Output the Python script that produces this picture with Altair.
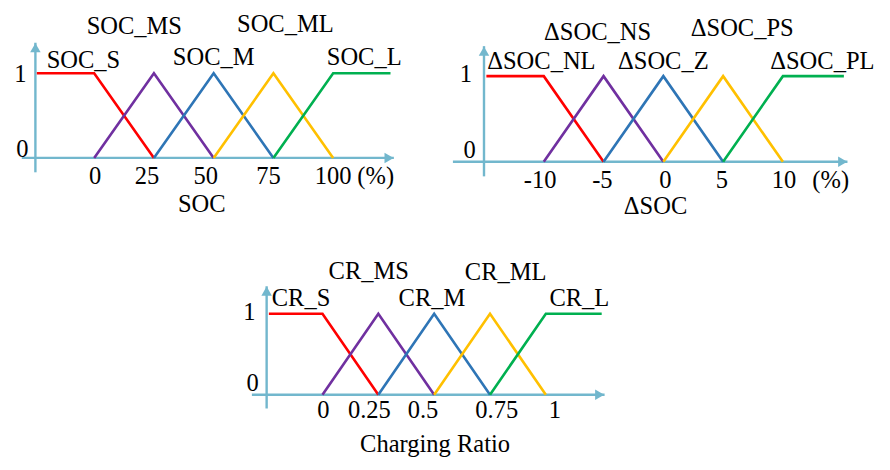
import altair as alt
import pandas as pd

FONT = "Liberation Serif"
COLORS = ["#FF0000", "#7030A0", "#2E75B6", "#FFC000", "#00B050"]
AXIS_COLOR = "#72B7CD"

# ---------------- Panel A : SOC ----------------
A_names = ["SOC_S", "SOC_MS", "SOC_M", "SOC_ML", "SOC_L"]
A_mf_x = [[-24, 0, 25], [0, 25, 50], [25, 50, 75], [50, 75, 100], [75, 100, 124]]
A_mf_y = [[1, 1, 0], [0, 1, 0], [0, 1, 0], [0, 1, 0], [0, 1, 1]]
A_lab_x = [-4.5, 16.8, 50, 80, 113]
A_lab_y = [1.06, 1.46, 1.10, 1.49, 1.10]
A_ticks = ["0", "25", "50", "75", "100", "(%)"]
A_tick_x = [0.4, 22.1, 46.7, 72.9, 100.0, 117.8]
A_tick_y = -0.31
A_title = "SOC"
A_title_xy = (45, -0.64)
A_one_xy = (-28.3, 0.90)
A_zero_xy = (-27.5, 0.01)
A_yaxis = (-24.6, -0.17, 1.36)      # x, y bottom, y tip
A_xaxis = (-30.3, 125.4)            # x start, x tip
A_arrow = (123.4, 1.30)             # x-arrow centre x, y-arrow centre y

# ---------------- Panel B : ΔSOC ----------------
B_names = ["ΔSOC_NL", "ΔSOC_NS", "ΔSOC_Z", "ΔSOC_PS", "ΔSOC_PL"]
B_mf_x = [[-14.8, -10, -5], [-10, -5, 0], [-5, 0, 5], [0, 5, 10], [5, 10, 15.1]]
B_mf_y = A_mf_y
B_lab_x = [-10.2, -5.5, 0, 6.6, 13.3]
B_lab_y = [1.08, 1.42, 1.08, 1.47, 1.08]
B_ticks = ["-10", "-5", "0", "5", "10", "(%)"]
B_tick_x = [-10.3, -5.1, 0.16, 4.9, 10.1, 14.0]
B_tick_y = -0.30
B_title = "ΔSOC"
B_title_xy = (-0.65, -0.61)
B_one_xy = (-16.0, 0.93)
B_zero_xy = (-15.7, 0.05)
B_yaxis = (-15.0, -0.17, 1.35)
B_xaxis = (-17.6, 15.4)
B_arrow = (15.0, 1.29)

# ---------------- Panel C : Charging Ratio ----------------
C_names = ["CR_S", "CR_MS", "CR_M", "CR_ML", "CR_L"]
C_mf_x = [[-0.24, 0, 0.25], [0, 0.25, 0.5], [0.25, 0.5, 0.75], [0.5, 0.75, 1], [0.75, 1, 1.25]]
C_mf_y = A_mf_y
C_lab_x = [-0.096, 0.207, 0.49, 0.82, 1.15]
C_lab_y = [1.10, 1.43, 1.10, 1.42, 1.10]
C_ticks = ["0", "0.25", "0.5", "0.75", "1"]
C_tick_x = [0.004, 0.21, 0.45, 0.78, 1.04]
C_tick_y = -0.29
C_title = "Charging Ratio"
C_title_xy = (0.504, -0.71)
C_one_xy = (-0.30, 0.92)
C_zero_xy = (-0.285, 0.05)
C_yaxis = (-0.25, -0.17, 1.34)
C_xaxis = (-0.316, 1.263)
C_arrow = (1.241, 1.28)

# ---------------- layout (reference pixel frame -> output) ----------------
S, SY, RX0, RY0 = 0.98, 0.975, 4, 4
FS = 24.5


def lin(p, pa, va, pb, vb):
    return va + (p - pa) * (vb - va) / (pb - pa)


def panel(names, mf_x, mf_y, lab_x, lab_y, ticks, tick_x, tick_y, title, title_xy,
          one_xy, zero_xy, yaxis, xaxis, arrow, region, xmap, ymap):
    rx0, rx1, ry0, ry1 = region
    width = round((rx1 - rx0) * S)
    height = round((ry1 - ry0) * SY)
    xdom = [lin(rx0, *xmap), lin(rx1, *xmap)]
    ydom = [lin(ry1, *ymap), lin(ry0, *ymap)]
    xs = alt.Scale(domain=xdom, nice=False, zero=False)
    ys = alt.Scale(domain=ydom, nice=False, zero=False)

    rows = []
    for k, nm in enumerate(names):
        for i, (xv, yv) in enumerate(zip(mf_x[k], mf_y[k])):
            rows.append({"mf": nm, "i": i, "x": xv, "y": yv, "c": COLORS[k]})
    mf = pd.DataFrame(rows)

    lines = alt.Chart(mf).mark_line(strokeWidth=2.6).encode(
        x=alt.X("x:Q", scale=xs, axis=None),
        y=alt.Y("y:Q", scale=ys, axis=None),
        detail="mf:N",
        color=alt.Color("c:N", scale=None),
        order="i:Q",
    )

    ax = pd.DataFrame([
        {"x": yaxis[0], "x2": yaxis[0], "y": yaxis[1], "y2": yaxis[2]},
        {"x": xaxis[0], "x2": xaxis[1], "y": 0, "y2": 0},
    ])
    rules = alt.Chart(ax).mark_rule(color=AXIS_COLOR, strokeWidth=2.4).encode(
        x=alt.X("x:Q", scale=xs, axis=None), x2="x2:Q",
        y=alt.Y("y:Q", scale=ys, axis=None), y2="y2:Q",
    )
    arr_r = alt.Chart(pd.DataFrame([{"x": arrow[0], "y": 0}])).mark_point(
        shape="triangle-right", filled=True, size=110, color=AXIS_COLOR, opacity=1
    ).encode(x=alt.X("x:Q", scale=xs, axis=None), y=alt.Y("y:Q", scale=ys, axis=None))
    arr_u = alt.Chart(pd.DataFrame([{"x": yaxis[0], "y": arrow[1]}])).mark_point(
        shape="triangle-up", filled=True, size=110, color=AXIS_COLOR, opacity=1
    ).encode(x=alt.X("x:Q", scale=xs, axis=None), y=alt.Y("y:Q", scale=ys, axis=None))

    txt = []
    for nm, xv, yv in zip(names, lab_x, lab_y):
        txt.append({"x": xv, "y": yv, "t": nm})
    for t, xv in zip(ticks, tick_x):
        txt.append({"x": xv, "y": tick_y, "t": t})
    txt.append({"x": title_xy[0], "y": title_xy[1], "t": title})
    center_txt = alt.Chart(pd.DataFrame(txt)).mark_text(
        font=FONT, fontSize=FS, color="black", align="center", baseline="alphabetic"
    ).encode(x=alt.X("x:Q", scale=xs, axis=None), y=alt.Y("y:Q", scale=ys, axis=None), text="t:N")

    lv = pd.DataFrame([
        {"x": one_xy[0], "y": one_xy[1], "t": "1"},
        {"x": zero_xy[0], "y": zero_xy[1], "t": "0"},
    ])
    right_txt = alt.Chart(lv).mark_text(
        font=FONT, fontSize=FS, color="black", align="right", baseline="alphabetic"
    ).encode(x=alt.X("x:Q", scale=xs, axis=None), y=alt.Y("y:Q", scale=ys, axis=None), text="t:N")

    return alt.layer(rules, arr_r, arr_u, lines, center_txt, right_txt).properties(
        width=width, height=height
    )


pA = panel(A_names, A_mf_x, A_mf_y, A_lab_x, A_lab_y, A_ticks, A_tick_x, A_tick_y,
           A_title, A_title_xy, A_one_xy, A_zero_xy, A_yaxis, A_xaxis, A_arrow,
           (4, 440, 4, 230), (92, 0, 153, 25), (158, 0, 71, 1))
pB = panel(B_names, B_mf_x, B_mf_y, B_lab_x, B_lab_y, B_ticks, B_tick_x, B_tick_y,
           B_title, B_title_xy, B_one_xy, B_zero_xy, B_yaxis, B_xaxis, B_arrow,
           (440, 890, 4, 230), (673, 0, 734, 5), (162, 0, 74, 1))
pC = panel(C_names, C_mf_x, C_mf_y, C_lab_x, C_lab_y, C_ticks, C_tick_x, C_tick_y,
           C_title, C_title_xy, C_one_xy, C_zero_xy, C_yaxis, C_xaxis, C_arrow,
           (4, 890, 230, 470), (325, 0, 553, 1), (401, 0, 318, 1))

top = alt.hconcat(pA, pB, spacing=0)
chart = alt.vconcat(top, pC, spacing=0).properties(
    padding=0, background="white"
).configure_view(strokeWidth=0, stroke="transparent")

chart.save("out.html", embed_options={"renderer": "svg", "actions": False})
